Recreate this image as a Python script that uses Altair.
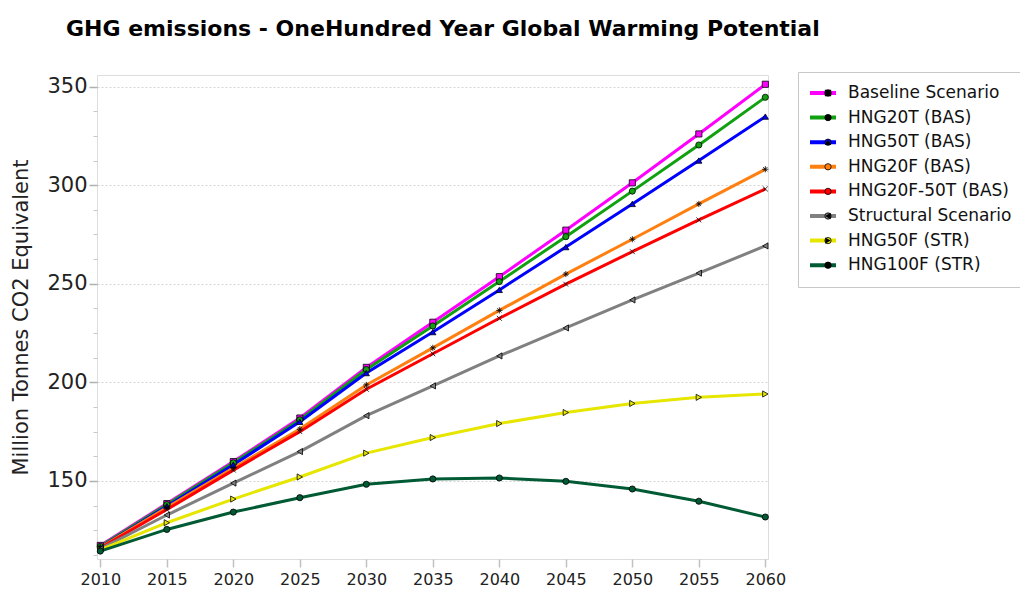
import altair as alt
import pandas as pd

years = [2010, 2015, 2020, 2025, 2030, 2035, 2040, 2045, 2050, 2055, 2060]

series_names = [
    "Baseline Scenario",
    "HNG20T (BAS)",
    "HNG50T (BAS)",
    "HNG20F (BAS)",
    "HNG20F-50T (BAS)",
    "Structural Scenario",
    "HNG50F (STR)",
    "HNG100F (STR)",
]

baseline = [117.3, 138.5, 159.8, 181.9, 207.6, 230.5, 253.6, 277.2, 301.2, 326.0, 351.2]
hng20t = [116.8, 138.0, 159.2, 181.0, 206.5, 228.6, 251.1, 273.9, 297.0, 320.4, 344.6]
hng50t = [116.3, 137.2, 158.2, 180.0, 204.7, 225.5, 246.9, 268.6, 290.5, 312.5, 334.8]
hng20f = [116.2, 136.5, 156.5, 176.3, 198.7, 217.5, 236.5, 254.9, 272.6, 290.5, 308.1]
hng20f50t = [116.0, 135.5, 155.5, 175.0, 196.5, 214.5, 232.5, 249.8, 266.3, 282.4, 298.1]
structural = [115.5, 132.7, 148.9, 164.9, 183.1, 198.2, 213.4, 227.6, 241.8, 255.4, 269.2]
hng50f = [115.0, 128.8, 140.8, 152.0, 164.1, 172.0, 179.1, 184.7, 189.3, 192.4, 194.1]
hng100f = [114.4, 125.4, 134.2, 141.5, 148.3, 151.0, 151.5, 149.8, 145.9, 139.7, 131.7]

all_values = [baseline, hng20t, hng50t, hng20f, hng20f50t, structural, hng50f, hng100f]

major_y_ticks = [150, 200, 250, 300, 350]
minor_y_ticks = [112.5, 125, 137.5, 162.5, 175, 187.5, 212.5, 225, 237.5,
                 262.5, 275, 287.5, 312.5, 325, 337.5]

colors = ["#ff00ff", "#10a010", "#0000ff", "#ff8010", "#ff0000", "#808080", "#e6e600", "#005a34"]
shapes = [
    "square",
    "circle",
    "triangle-up",
    "M-1,0L1,0M0,-1L0,1M-0.7,-0.7L0.7,0.7M-0.7,0.7L0.7,-0.7",
    "M-0.8,-0.8L0.8,0.8M-0.8,0.8L0.8,-0.8",
    "triangle-left",
    "triangle-right",
    "circle",
]

rows = []
for i, (name, vals) in enumerate(zip(series_names, all_values)):
    for y, v in zip(years, vals):
        rows.append({"series": name, "series_pt": name, "order": i, "year": y, "value": v})
df = pd.DataFrame(rows)

FONT = "DejaVu Sans"

x_scale = alt.Scale(domain=[2009.75, 2060.2], nice=False, zero=False)
y_scale = alt.Scale(domain=[110.4, 355.9], nice=False, zero=False)

x_enc = alt.X(
    "year:Q",
    scale=x_scale,
    axis=alt.Axis(
        values=years,
        format="d",
        title=None,
        grid=False,
        domain=False,
        tickColor="#c0c0c0",
        tickSize=8,
        tickWidth=1.5,
        labelFontSize=16,
        labelFont=FONT,
        labelColor="#222222",
        labelPadding=4,
    ),
)
y_enc = alt.Y(
    "value:Q",
    scale=y_scale,
    axis=alt.Axis(
        values=major_y_ticks,
        title="Million Tonnes CO2 Equivalent",
        titleFont=FONT,
        titleFontSize=21,
        titleFontWeight="normal",
        titleColor="#222222",
        titleX=-66,
        titleY=242,
        titleAngle=270,
        titleBaseline="bottom",
        titleAlign="center",
        grid=True,
        gridColor="#d4d4d4",
        gridDash=[2, 2],
        gridWidth=1,
        domain=False,
        tickColor="#b0b0b0",
        tickSize=8,
        tickWidth=1.5,
        labelFontSize=21,
        labelFont=FONT,
        labelColor="#222222",
        labelPadding=2,
    ),
)
y_minor_enc = alt.Y(
    "value:Q",
    scale=y_scale,
    axis=alt.Axis(
        orient="left",
        values=minor_y_ticks,
        title=None,
        labels=False,
        grid=False,
        domain=False,
        tickColor="#c8c8c8",
        tickSize=4,
        tickWidth=1,
    ),
)

LEG_X = 701
LEG_Y = -3

lines = alt.Chart(df).mark_line(strokeWidth=3).encode(
    x=x_enc,
    y=y_enc,
    stroke=alt.Stroke(
        "series:N",
        scale=alt.Scale(domain=series_names, range=colors),
        sort=series_names,
        legend=alt.Legend(
            title=None,
            orient="none",
            legendX=LEG_X,
            legendY=LEG_Y,
            symbolType="stroke",
            symbolSize=676,
            symbolStrokeWidth=4,
            labelFont=FONT,
            labelFontSize=17,
            labelColor="#111111",
            labelOffset=10,
            clipHeight=22,
            rowPadding=2.6,
            padding=10,
            strokeColor="#c8c8c8",
            fillColor="white",
            labelLimit=400,
        ),
    ),
    order=alt.Order("order:Q"),
    detail="series:N",
)

pt_legend = alt.Legend(
    title=None,
    orient="none",
    legendX=LEG_X,
    legendY=LEG_Y,
    symbolSize=40,
    symbolStrokeColor="black",
    symbolStrokeWidth=0.8,
    symbolOffset=11.5,
    labelExpr="''",
    labelFont=FONT,
    labelFontSize=17,
    clipHeight=22,
    rowPadding=2.6,
    padding=10,
)

points = alt.Chart(df).mark_point(filled=True, size=38, stroke="black", strokeWidth=0.8, opacity=1).encode(
    x=x_enc,
    y=y_minor_enc,
    color=alt.Color(
        "series_pt:N",
        scale=alt.Scale(range=colors),
        sort=series_names,
        legend=pt_legend,
    ),
    shape=alt.Shape(
        "series_pt:N",
        scale=alt.Scale(range=shapes),
        sort=series_names,
        legend=pt_legend,
    ),
)

chart = (
    alt.layer(lines, points)
    .resolve_axis(y="independent")
    .properties(
        width=671,
        height=484,
        autosize=alt.AutoSizeParams(type="none"),
        padding={"left": 89, "top": 67, "right": 252, "bottom": 31},
        title=alt.TitleParams(
            "GHG emissions - OneHundred Year Global Warming Potential",
            anchor="start",
            frame="group",
            font=FONT,
            fontSize=22,
            fontWeight="bold",
            color="#000000",
            dx=-31,
            offset=31,
        ),
    )
    .configure_view(stroke="#c8c8c8", strokeWidth=2)
    .configure(background="white")
)

chart.save("out.html", embed_options={"renderer": "svg", "actions": False})
